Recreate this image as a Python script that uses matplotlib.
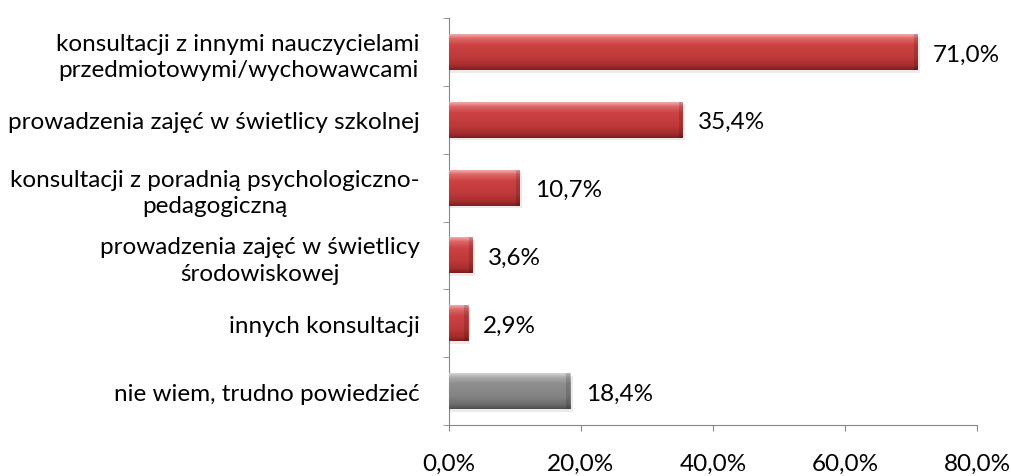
import numpy as np
import matplotlib as mpl
mpl.use('Agg')
from matplotlib import pyplot as plt
from matplotlib.colors import LinearSegmentedColormap

plt.rcParams['font.family'] = ['Lato', 'DejaVu Sans']

# data (top to bottom)
labels = ['konsultacji z innymi nauczycielami\nprzedmiotowymi/wychowawcami',
          'prowadzenia zajęć w świetlicy szkolnej',
          'konsultacji z poradnią psychologiczno-\npedagogiczną',
          'prowadzenia zajęć w świetlicy\nśrodowiskowej',
          'innych konsultacji',
          'nie wiem, trudno powiedzieć']
values = [71.0, 35.4, 10.7, 3.6, 2.9, 18.4]
is_grey = [False, False, False, False, False, True]

# 0 = bottom edge, 1 = top edge
red_cmap = LinearSegmentedColormap.from_list(
    'red3d', [(0, '#7a1e1f'), (0.12, '#a52d2e'), (0.35, '#bf393a'),
              (0.7, '#cc4243'), (0.88, '#dc6465'), (1, '#f1a9a9')])
grey_cmap = LinearSegmentedColormap.from_list(
    'grey3d', [(0, '#4e4e4e'), (0.12, '#6c6c6c'), (0.35, '#838383'),
               (0.7, '#8e8e8e'), (0.88, '#a8a8a8'), (1, '#d4d4d4')])

fig = plt.figure(figsize=(10.12, 4.77), dpi=100)
ax = fig.add_axes([449/1012, 1-426/477, (977-449)/1012, (426-19)/477])

y = np.arange(len(values))
bars = ax.barh(y, values, height=0.53, color='none', edgecolor='none', zorder=3)

grad = np.linspace(1, 0, 64).reshape(-1, 1)
for b, v, g in zip(bars, values, is_grey):
    x0, y0, w, h = b.get_x(), b.get_y(), b.get_width(), b.get_height()
    # soft shadow
    ax.add_patch(plt.Rectangle((x0, y0 + 0.04), w + 0.35, h, color='#000000',
                               alpha=0.08, lw=0, zorder=2))
    im = ax.imshow(grad, cmap=grey_cmap if g else red_cmap, aspect='auto',
                   extent=(x0, x0 + w, y0 + h, y0), zorder=3,
                   interpolation='bicubic')
    im.set_clip_path(b)
    # bevel at right end
    ax.add_patch(plt.Rectangle((x0 + w - 0.6, y0), 0.6, h, color='#000000',
                               alpha=0.15, lw=0, zorder=4))
    ax.text(v + 2.3, b.get_y() + h / 2 + 0.03, ('%.1f%%' % v).replace('.', ','),
            va='center', ha='left', fontsize=17.5)

ax.set_xlim(0, 80)
ax.set_ylim(len(values) - 0.5, -0.5)
ticks = [0, 20, 40, 60, 80]
ax.set_xticks(ticks)
ax.set_xticklabels([('%.1f%%' % t).replace('.', ',') for t in ticks], fontsize=17.5)
ax.set_yticks(y)
ax.set_yticklabels(labels, fontsize=17.5, multialignment='center', linespacing=1.3)
ax.set_yticks(np.arange(-0.5, len(values)), minor=True)
ax.tick_params(axis='y', which='major', length=0, pad=21)
ax.tick_params(axis='y', which='minor', length=4, color='#868686')
ax.tick_params(axis='x', length=4, color='#868686', pad=16, direction='out')

for s in ['top', 'right']:
    ax.spines[s].set_visible(False)
for s in ['left', 'bottom']:
    ax.spines[s].set_color('#868686')

fig.savefig('out.png', dpi=100)
